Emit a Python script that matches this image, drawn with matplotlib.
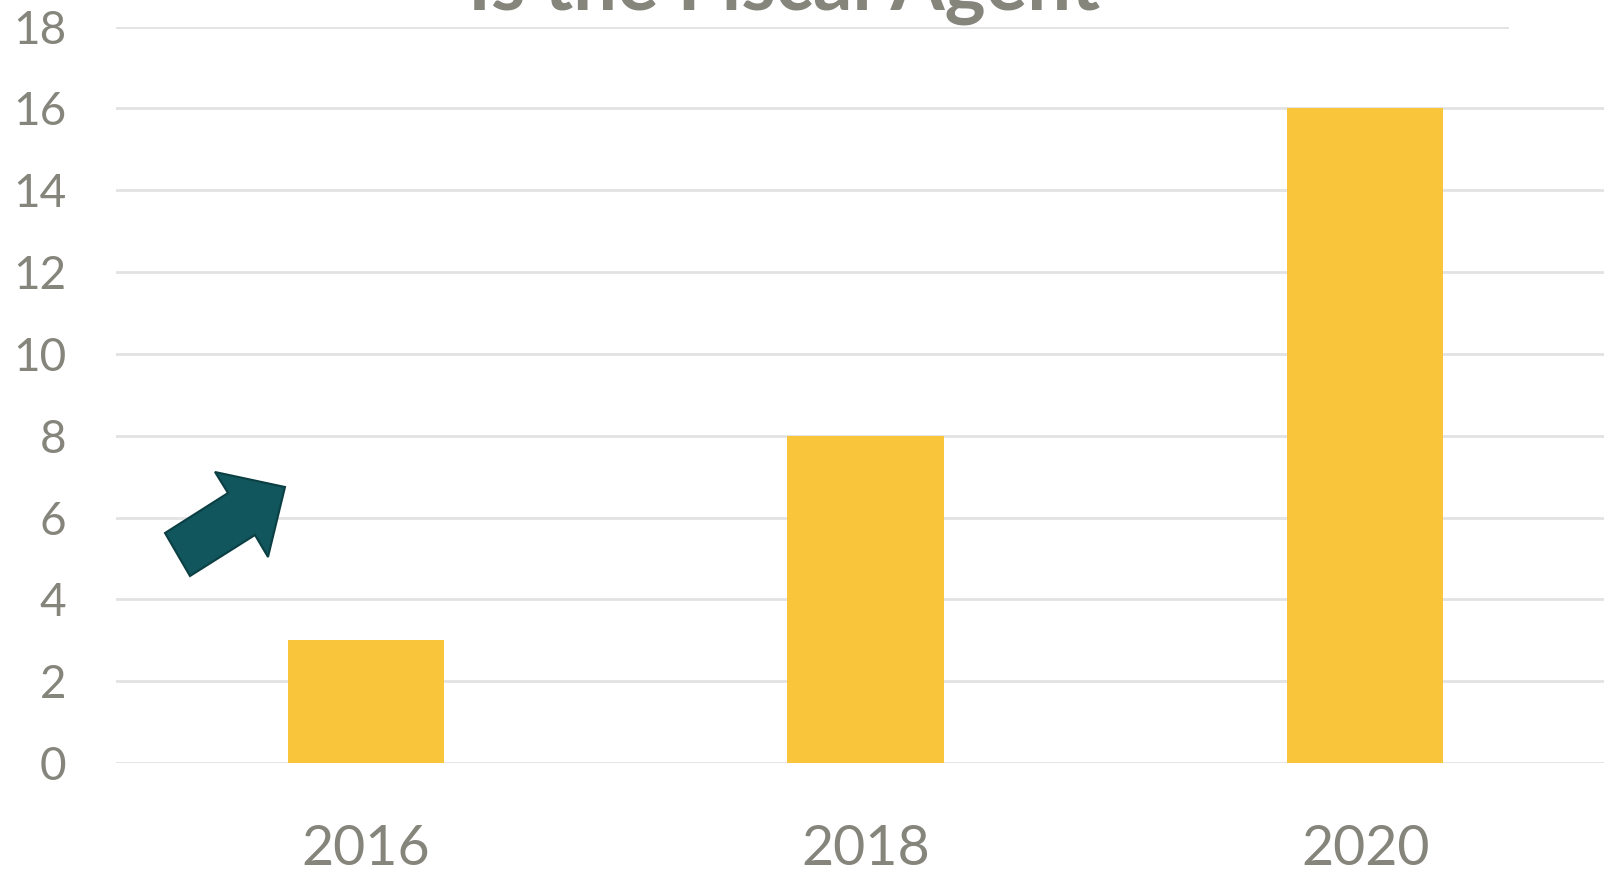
import matplotlib.pyplot as plt
from matplotlib.patches import Polygon

# Chart data
years = ['2016', '2018', '2020']
counts = [3, 8, 16]
y_ticks = [0, 2, 4, 6, 8, 10, 12, 14, 16, 18]
title = 'Is the Fiscal Agent'

grey = '#85857c'
grid = '#e2e2e2'
bar_color = '#f9c53a'

W, H = 1604, 871
fig = plt.figure(figsize=(W / 100, H / 100), dpi=100)
plt.rcParams['font.family'] = ['Lato', 'DejaVu Sans']

# axes placement in pixels
left, right, top, bottom = 116, 1604, 26.6, 763
ax = fig.add_axes([left / W, 1 - bottom / H, (right - left) / W, (bottom - top) / H])

x = range(len(years))
ax.bar(x, counts, width=0.313, color=bar_color, zorder=3)

# gridlines (top one stops short, like the original)
for v in y_ticks:
    xmax = (1507 - left) / (right - left) if v == 18 else 1
    ax.axhline(v, xmin=0, xmax=xmax, color=grid, lw=2, zorder=1)

ax.set_xlim(-0.5, 2.478)
ax.set_ylim(0, 18)
ax.set_yticks(y_ticks)
ax.set_xticks(list(x))
ax.set_xticklabels(years)
ax.tick_params(axis='y', length=0, pad=36, labelsize=33, labelcolor=grey)
ax.tick_params(axis='x', length=0, pad=44, labelsize=40, labelcolor=grey)
for s in ax.spines.values():
    s.set_visible(False)

# title, mostly cut off at the top edge
fig.text(784 / W, 1 - 10 / H, title, ha='center', va='baseline',
         fontsize=56, fontweight='bold', color=grey)

# block arrow decoration (pixel coords)
pts = [(165, 533), (190, 576), (255, 535), (268, 557),
       (285, 487), (215, 472), (228, 493)]
arrow = Polygon([(px / W, 1 - py / H) for px, py in pts], closed=True,
                transform=fig.transFigure, facecolor='#10565c',
                edgecolor='#0b3f44', lw=1.5, zorder=5)
fig.patches.append(arrow)

fig.savefig('out.png', dpi=100)
